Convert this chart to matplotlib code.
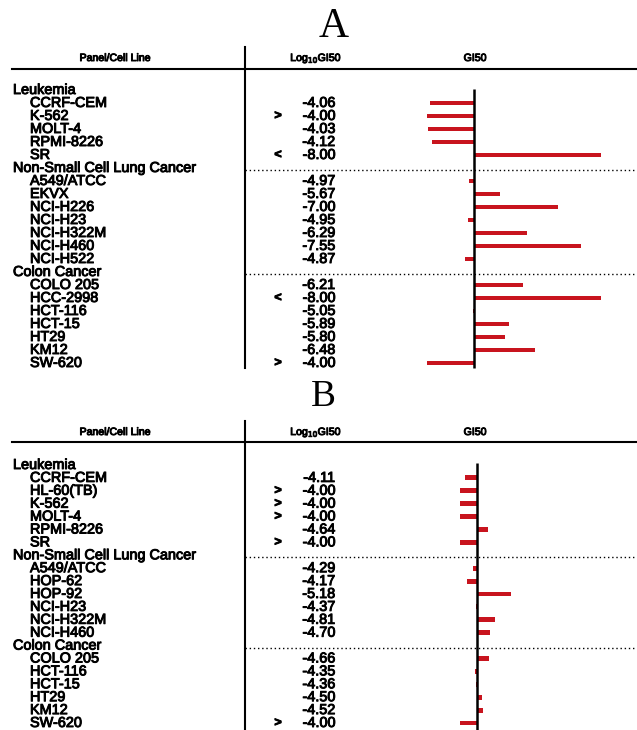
import matplotlib
matplotlib.use('Agg')
import matplotlib.pyplot as plt
import matplotlib.patheffects as pe

## data: log10 GI50 per cell line, with "<" / ">" flags
groups = ['Leukemia', 'Non-Small Cell Lung Cancer', 'Colon Cancer']

a_leuk_lines = ['CCRF-CEM', 'K-562', 'MOLT-4', 'RPMI-8226', 'SR']
a_leuk_vals = [-4.06, -4.00, -4.03, -4.12, -8.00]
a_leuk_flags = ['', '>', '', '', '<']
a_nsclc_lines = ['A549/ATCC', 'EKVX', 'NCI-H226', 'NCI-H23', 'NCI-H322M', 'NCI-H460', 'NCI-H522']
a_nsclc_vals = [-4.97, -5.67, -7.00, -4.95, -6.29, -7.55, -4.87]
a_nsclc_flags = ['', '', '', '', '', '', '']
a_colon_lines = ['COLO 205', 'HCC-2998', 'HCT-116', 'HCT-15', 'HT29', 'KM12', 'SW-620']
a_colon_vals = [-6.21, -8.00, -5.05, -5.89, -5.80, -6.48, -4.00]
a_colon_flags = ['', '<', '', '', '', '', '>']
a_mean = -5.08

b_leuk_lines = ['CCRF-CEM', 'HL-60(TB)', 'K-562', 'MOLT-4', 'RPMI-8226', 'SR']
b_leuk_vals = [-4.11, -4.00, -4.00, -4.00, -4.64, -4.00]
b_leuk_flags = ['', '>', '>', '>', '', '>']
b_nsclc_lines = ['A549/ATCC', 'HOP-62', 'HOP-92', 'NCI-H23', 'NCI-H322M', 'NCI-H460']
b_nsclc_vals = [-4.29, -4.17, -5.18, -4.37, -4.81, -4.70]
b_nsclc_flags = ['', '', '', '', '', '']
b_colon_lines = ['COLO 205', 'HCT-116', 'HCT-15', 'HT29', 'KM12', 'SW-620']
b_colon_vals = [-4.66, -4.35, -4.36, -4.50, -4.52, -4.00]
b_colon_flags = ['', '', '', '', '', '>']
b_mean = -4.39

W, H = 637, 730
SANS = 'Liberation Sans'
RED = '#c8141e'
PX_PER_LOG = 43.5
# scanned text looks heavier than plain Arial
HEAVY = [pe.withStroke(linewidth=0.7, foreground='black')]

fig = plt.figure(figsize=(W / 100, H / 100), dpi=100)
over = fig.add_axes([0, 0, 1, 1])
over.set_xlim(0, W)
over.set_ylim(H, 0)
over.axis('off')


def px_rect(x0, y0, x1, y1):
    return [x0 / W, 1 - y1 / H, (x1 - x0) / W, (y1 - y0) / H]


def txt(x, y, s, size=10.4, ha='left', **kw):
    over.text(x, y, s, family=SANS, fontsize=size, ha=ha, va='center',
              path_effects=HEAVY, **kw)


def draw_panel(letter, title_x, title_y, title_size, head_y, hline_y, vtop, vbot,
               row0, step, zero_x, zero_top, mean, blocks):
    over.text(title_x, title_y, letter, family='Liberation Serif',
              fontsize=title_size, ha='center', va='center')
    txt(115, head_y, 'Panel/Cell Line', size=7.6, ha='center')
    txt(316, head_y, r'Log$_{10}$GI50', size=7.6, ha='center')
    txt(475, head_y, 'GI50', size=7.6, ha='center')
    over.plot([12, W], [hline_y, hline_y], color='black', lw=1.5)
    over.plot([245, 245], [vtop, vbot], color='black', lw=1.5)

    # rows: group header then its cell lines
    rows, vals = [], []
    r = 0
    for name, lines, v, flags in blocks:
        y = row0 + step * r
        txt(13, y, name)
        if r > 0:
            over.plot([245, W], [y + 2, y + 2], color='black', lw=1,
                      linestyle=(0, (1, 2)))
        r += 1
        for ln, val, fl in zip(lines, v, flags):
            y = row0 + step * r
            txt(30, y, ln)
            txt(335, y, '%.2f' % val, ha='right')
            if fl:
                txt(278, y, fl, size=9, ha='center', fontweight='bold')
            rows.append(r)
            vals.append(val)
            r += 1
    n = r

    ax = fig.add_axes(px_rect(245, row0 - step / 2, W, row0 + step * (n - 0.5)))
    ax.set_xlim((245 - zero_x) / PX_PER_LOG, (W - zero_x) / PX_PER_LOG)
    ax.set_ylim(n - 0.5, -0.5)
    ax.axis('off')
    ax.barh(rows, [mean - v for v in vals], height=0.38, color=RED)
    ax.vlines(0, (zero_top - row0) / step, (vbot - row0) / step, color='black',
              lw=1.8, clip_on=False)


draw_panel('A', 334, 27, 30, 58, 69, 47, 368, 90, 13.0, 474, 89, a_mean,
           [(groups[0], a_leuk_lines, a_leuk_vals, a_leuk_flags),
            (groups[1], a_nsclc_lines, a_nsclc_vals, a_nsclc_flags),
            (groups[2], a_colon_lines, a_colon_vals, a_colon_flags)])
draw_panel('B', 323, 397, 27, 432, 442, 421, 730, 465, 12.9, 477, 463, b_mean,
           [(groups[0], b_leuk_lines, b_leuk_vals, b_leuk_flags),
            (groups[1], b_nsclc_lines, b_nsclc_vals, b_nsclc_flags),
            (groups[2], b_colon_lines, b_colon_vals, b_colon_flags)])

fig.savefig('out.png', dpi=100)
